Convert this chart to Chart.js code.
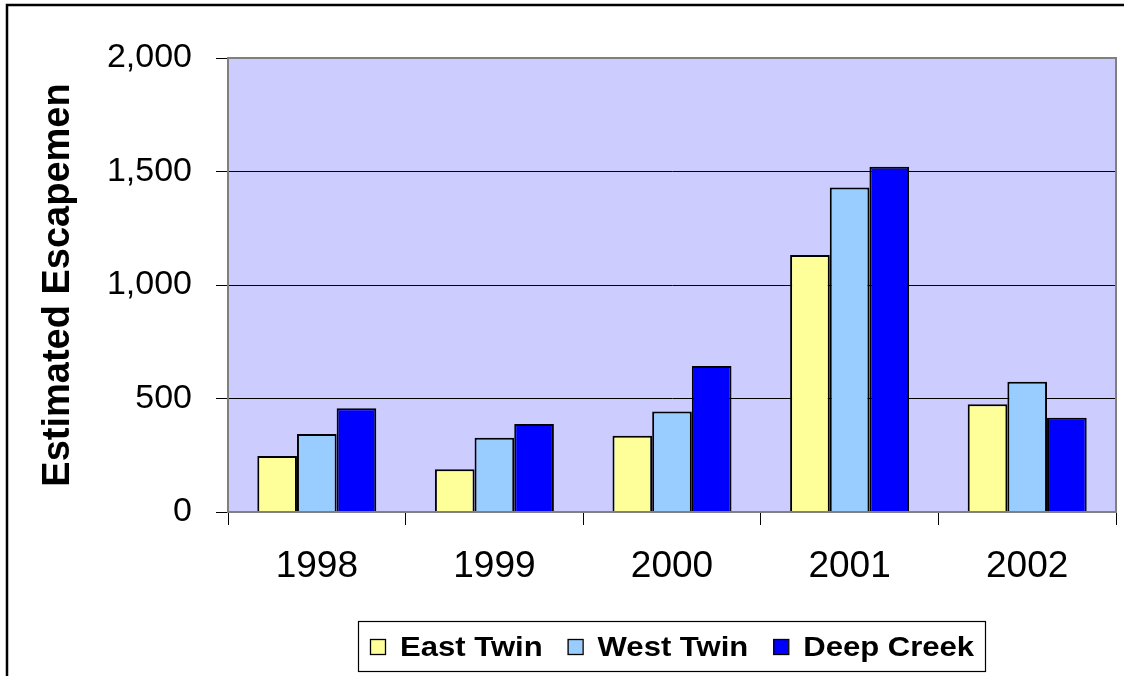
<!DOCTYPE html>
<html>
<head>
<meta charset="utf-8">
<script src="https://cdn.jsdelivr.net/npm/chart.js@4.4.1/dist/chart.umd.min.js"></script>
<style>
  html, body { margin: 0; padding: 0; background: #fff; }
  #wrap { width: 1124px; height: 676px; position: relative; }
  canvas { display: block; }
</style>
</head>
<body>
<div id="wrap"><canvas id="c" width="1124" height="676"></canvas></div>
<script>
const categories = ["1998", "1999", "2000", "2001", "2002"];
const eastTwin  = [247, 188, 336, 1132, 475];
const westTwin  = [344, 327, 443, 1430, 574];
const deepCreek = [457, 388, 643, 1521, 415];
const seriesNames = ["East Twin", "West Twin", "Deep Creek"];
const yTicks = [0, 500, 1000, 1500, 2000];
const yTitle = "Estimated Escapemen";

const FONT = "'Liberation Sans', Arial, sans-serif";

const frame = {
  id: 'frame',
  beforeDraw(chart) {
    const ctx = chart.ctx;
    const a = chart.chartArea;
    ctx.save();
    ctx.fillStyle = '#fff';
    ctx.fillRect(0, 0, chart.width, chart.height);
    ctx.strokeStyle = '#000';
    ctx.lineWidth = 2.5;
    ctx.strokeRect(7, 5, chart.width + 20, chart.height + 20);
    ctx.fillStyle = '#CCCCFF';
    ctx.fillRect(a.left, a.top, a.right - a.left, a.bottom - a.top);
    ctx.restore();
  },
  afterDatasetsDraw(chart) {
    const ctx = chart.ctx;
    const a = chart.chartArea;
    ctx.save();
    ctx.strokeStyle = '#808080';
    ctx.lineWidth = 2;
    ctx.strokeRect(a.left, a.top, a.right - a.left, a.bottom - a.top);
    ctx.restore();
  },
  afterDraw(chart) {
    const ctx = chart.ctx;
    ctx.save();
    const bx = 358, by = 621, bw = 627, bh = 50;
    ctx.fillStyle = '#fff';
    ctx.fillRect(bx, by, bw, bh);
    ctx.strokeStyle = '#000';
    ctx.lineWidth = 1.2;
    ctx.strokeRect(bx + 0.5, by + 0.5, bw, bh);
    ctx.font = "bold 27px " + FONT;
    ctx.textBaseline = 'alphabetic';
    const sx = 1.15;
    let x = 370;
    chart.data.datasets.forEach((ds) => {
      ctx.fillStyle = ds.backgroundColor;
      ctx.fillRect(x, 639, 15, 16);
      ctx.strokeStyle = '#000';
      ctx.lineWidth = 1.3;
      ctx.strokeRect(x + 0.5, 639.5, 15, 15);
      const tx = x + 30;
      ctx.save();
      ctx.translate(tx, 656);
      ctx.scale(sx, 1);
      ctx.fillStyle = '#000';
      ctx.fillText(ds.label, 0, 0);
      ctx.restore();
      const w = ctx.measureText(ds.label).width * sx;
      x = tx + w + 25;
    });
    ctx.restore();
  }
};

new Chart(document.getElementById('c'), {
  type: 'bar',
  data: {
    labels: categories,
    datasets: [
      { label: seriesNames[0], data: eastTwin,  backgroundColor: '#FFFF99', borderColor: '#000', borderWidth: 2 },
      { label: seriesNames[1], data: westTwin,  backgroundColor: '#99CCFF', borderColor: '#000', borderWidth: 2 },
      { label: seriesNames[2], data: deepCreek, backgroundColor: '#0000FF', borderColor: '#000', borderWidth: 2 }
    ]
  },
  options: {
    responsive: false,
    animation: false,
    devicePixelRatio: 1,
    layout: { padding: { left: 0, top: 58, right: 8, bottom: 0 } },
    datasets: { bar: { categoryPercentage: 0.67, barPercentage: 1.0 } },
    plugins: { legend: { display: false }, tooltip: { enabled: false } },
    scales: {
      x: {
        grid: { offset: true, drawOnChartArea: false, tickLength: 13, tickColor: '#000', tickWidth: 1 },
        border: { display: true, color: '#808080', width: 2 },
        ticks: { color: '#000', font: { family: FONT, size: 37 }, padding: 20, maxRotation: 0 },
        afterFit(scale) { scale.height = 164; }
      },
      y: {
        min: 0, max: 2000,
        afterBuildTicks(scale) { scale.ticks = yTicks.map(v => ({ value: v })); },
        grid: {
          drawOnChartArea: true,
          color: (c) => (c.tick && (c.tick.value === 0 || c.tick.value === 2000)) ? '#808080' : '#000',
          lineWidth: 1,
          tickLength: 12, tickColor: '#000', tickWidth: 1
        },
        border: { display: true, color: '#808080', width: 2 },
        ticks: {
          color: '#000', font: { family: FONT, size: 34 }, padding: 24,
          callback: (v) => Number(v).toLocaleString('en-US')
        },
        title: {
          display: true, text: yTitle, color: '#000',
          font: { family: FONT, size: 38, weight: 'bold' },
          padding: { top: 36, bottom: 0 }
        },
        afterFit(scale) { scale.width = 228; }
      }
    }
  },
  plugins: [frame]
});
</script>
</body>
</html>
